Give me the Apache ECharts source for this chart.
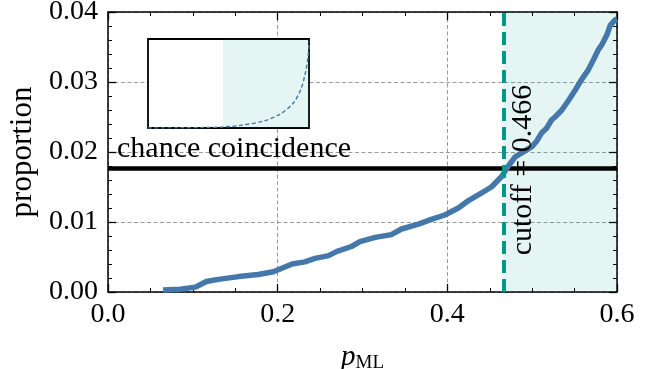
<!DOCTYPE html>
<html>
<head>
<meta charset="utf-8">
<script src="https://cdn.jsdelivr.net/npm/echarts@6/dist/echarts.min.js"></script>
<style>
  html, body { margin: 0; padding: 0; background: #fff; }
  #chart { width: 660px; height: 369px; }
</style>
</head>
<body>
<div id="chart"></div>
<script>
// Proportion of pairs above each p_ML threshold
const pML = [0.065, 0.085, 0.103, 0.108, 0.116, 0.130, 0.154, 0.177, 0.195, 0.205,
             0.217, 0.232, 0.244, 0.260, 0.270, 0.287, 0.297, 0.315, 0.334, 0.346,
             0.366, 0.382, 0.397, 0.413, 0.423, 0.437, 0.452, 0.464, 0.472, 0.480,
             0.492, 0.500, 0.505, 0.511, 0.517, 0.523, 0.527, 0.535, 0.543, 0.551,
             0.558, 0.566, 0.572, 0.578, 0.582, 0.588, 0.592, 0.598, 0.600];
const proportion = [0.0003, 0.0004, 0.0007, 0.0010, 0.0015, 0.0018, 0.0022, 0.0025, 0.0029, 0.0034,
                    0.0040, 0.0043, 0.0048, 0.0052, 0.0058, 0.0065, 0.0072, 0.0078, 0.0082, 0.0090,
                    0.0097, 0.0104, 0.0110, 0.0120, 0.0129, 0.0139, 0.0150, 0.0165, 0.0180, 0.0193,
                    0.0202, 0.0208, 0.0215, 0.0227, 0.0234, 0.0246, 0.0250, 0.0260, 0.0274, 0.0289,
                    0.0303, 0.0317, 0.0331, 0.0346, 0.0353, 0.0367, 0.0381, 0.0389, 0.0390];

// Full-range curve shown in the inset (normalised axes)
const insetX = [0.0, 0.20, 0.35, 0.46, 0.575, 0.72, 0.826, 0.90, 0.948, 0.977, 0.994, 1.0];
const insetY = [0.0, 0.002, 0.005, 0.011, 0.030, 0.079, 0.162, 0.275, 0.426, 0.615, 0.80, 0.97];

const chanceLevel = 0.0177;
const cutoff = 0.466;

const xTickLabels = ['0.0', '0.2', '0.4', '0.6'];
const yTickLabels = ['0.00', '0.01', '0.02', '0.03', '0.04'];

const FONT = 'Liberation Serif';
const BLUE = '#4477AA';
const TEAL = '#009988';
const SHADE = 'rgba(0,153,136,0.1)';

const mainCurve = pML.map((x, i) => [x, proportion[i]]);
const insetCurve = insetX.map((x, i) => [x, insetY[i]]);

const gridLine = { show: true, lineStyle: { color: '#9a9a9a', width: 1, type: [4, 2.5] } };
const tick = { show: true, inside: true, length: 8, lineStyle: { color: '#000', width: 1.3 } };
const minor = (n) => ({ show: true, splitNumber: n, length: 4, lineStyle: { color: '#000', width: 1 } });
const axisLine = { show: true, onZero: false, lineStyle: { color: '#000', width: 1.5 } };

const chart = echarts.init(document.getElementById('chart'), null, { renderer: 'canvas' });

chart.setOption({
  animation: false,
  backgroundColor: '#fff',
  textStyle: { fontFamily: FONT },
  grid: [
    { left: 108, right: 43, top: 12, bottom: 77, show: false, containLabel: false, outerBoundsMode: 'none' },
    { left: 148, top: 39, width: 161, height: 89, show: true, backgroundColor: '#fff',
      borderColor: '#000', borderWidth: 1.8, z: 5, containLabel: false, outerBoundsMode: 'none' }
  ],
  xAxis: [
    { type: 'value', gridIndex: 0, min: 0, max: 0.6, interval: 0.2, position: 'bottom',
      axisLine, axisTick: tick, minorTick: minor(4), splitLine: gridLine,
      axisLabel: { show: true, margin: 9, fontSize: 28, fontFamily: FONT, color: '#000',
        formatter: (v) => xTickLabels[Math.round(v / 0.2)] },
      name: '{p|p}{sub|ML}', nameLocation: 'middle', nameGap: 50,
      nameTextStyle: { rich: {
        p: { fontSize: 29, fontStyle: 'italic', fontFamily: FONT, color: '#000' },
        sub: { fontSize: 19, fontFamily: FONT, color: '#000', verticalAlign: 'bottom', padding: [12, 0, 0, 0] }
      } } },
    { type: 'value', gridIndex: 0, min: 0, max: 0.6, interval: 0.2, position: 'top',
      axisLine, axisTick: tick, minorTick: minor(4), splitLine: { show: false },
      axisLabel: { show: false } },
    { type: 'value', gridIndex: 1, min: 0, max: 1, show: false, splitLine: { show: false } }
  ],
  yAxis: [
    { type: 'value', gridIndex: 0, min: 0, max: 0.04, interval: 0.01, position: 'left',
      axisLine, axisTick: tick, minorTick: minor(5), splitLine: gridLine,
      axisLabel: { show: true, margin: 10, fontSize: 28, fontFamily: FONT, color: '#000',
        formatter: (v) => yTickLabels[Math.round(v / 0.01)] },
      name: 'proportion', nameLocation: 'middle', nameGap: 66, nameRotate: 90,
      nameTextStyle: { fontSize: 31, fontFamily: FONT, color: '#000' } },
    { type: 'value', gridIndex: 0, min: 0, max: 0.04, interval: 0.01, position: 'right',
      axisLine, axisTick: tick, minorTick: minor(5), splitLine: { show: false },
      axisLabel: { show: false } },
    { type: 'value', gridIndex: 1, min: 0, max: 1, show: false, splitLine: { show: false } }
  ],
  series: [
    { // region beyond the cutoff
      type: 'line', xAxisIndex: 0, yAxisIndex: 0, data: [], z: 1,
      markArea: { silent: true, z: 1, itemStyle: { color: SHADE },
        data: [[{ xAxis: cutoff }, { xAxis: 0.6 }]] }
    },
    { // chance coincidence level
      type: 'line', xAxisIndex: 0, yAxisIndex: 0, data: [], z: 2,
      markLine: { silent: true, symbol: 'none', precision: 6, z: 2,
        lineStyle: { color: '#000', width: 4.5, type: 'solid' },
        label: { show: false },
        data: [{ yAxis: chanceLevel }] }
    },
    {
      type: 'line', xAxisIndex: 0, yAxisIndex: 0, data: mainCurve, z: 3,
      showSymbol: false, lineStyle: { color: BLUE, width: 5.5 }, itemStyle: { color: BLUE }
    },
    { // cutoff
      type: 'line', xAxisIndex: 0, yAxisIndex: 0, data: [], z: 4,
      markLine: { silent: true, symbol: 'none', precision: 6, z: 4,
        lineStyle: { color: TEAL, width: 4, type: [13, 6] },
        label: { show: false },
        data: [{ xAxis: cutoff }] }
    },
    { // inset shading
      type: 'line', xAxisIndex: 2, yAxisIndex: 2, data: [], z: 6,
      markArea: { silent: true, z: 6, itemStyle: { color: SHADE },
        data: [[{ xAxis: cutoff }, { xAxis: 1 }]] }
    },
    { // inset curve
      type: 'line', xAxisIndex: 2, yAxisIndex: 2, data: insetCurve, z: 7,
      smooth: 0.3, showSymbol: false,
      lineStyle: { color: BLUE, width: 1.4, type: [4, 2.5] }
    }
  ]
});

// Annotations placed from data coordinates
const crossing = chart.convertToPixel({ gridIndex: 0 }, [cutoff, chanceLevel]);
const chanceStart = chart.convertToPixel({ gridIndex: 0 }, [0, chanceLevel]);
chart.setOption({
  graphic: [
    {
      type: 'text', x: crossing[0] + 5, y: crossing[1] + 2, rotation: Math.PI / 2, z: 10,
      style: { text: 'cutoff = ' + cutoff.toFixed(3), font: '30px "Liberation Serif"',
        fill: '#000', align: 'center', verticalAlign: 'top' }
    },
    {
      type: 'text', x: chanceStart[0] + 9, y: chanceStart[1] - 4, z: 10,
      style: { text: 'chance coincidence', font: '30px "Liberation Serif"',
        fill: '#000', align: 'left', verticalAlign: 'bottom' }
    }
  ]
});
</script>
</body>
</html>
